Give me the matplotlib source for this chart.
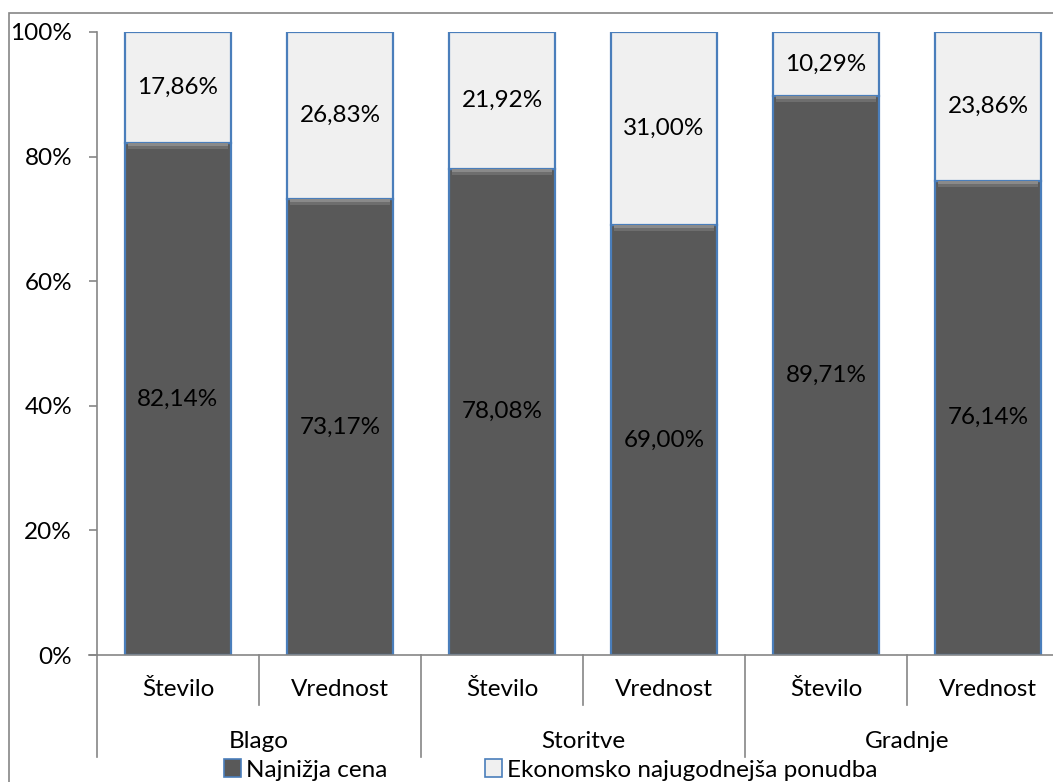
import matplotlib
matplotlib.use("Agg")
import matplotlib.pyplot as plt
from matplotlib.patches import Patch, Rectangle

plt.rcParams['font.family'] = ['Lato', 'DejaVu Sans']

groups = ["Blago", "Storitve", "Gradnje"]
subcats = ["Število", "Vrednost", "Število", "Vrednost", "Število", "Vrednost"]
najnizja = [82.14, 73.17, 78.08, 69.00, 89.71, 76.14]
ekonomsko = [17.86, 26.83, 21.92, 31.00, 10.29, 23.86]
ytick_vals = [0, 20, 40, 60, 80, 100]
ytick_labels = ["0%", "20%", "40%", "60%", "80%", "100%"]
series_names = ["Najnižja cena", "Ekonomsko najugodnejša ponudba"]

W, H = 1053, 782
fig = plt.figure(figsize=(W / 100, H / 100), dpi=100)
fig.patch.set_facecolor('white')

# outer chart border
fig.add_artist(Rectangle((8.5 / W, -0.05), 1.2, 1 - 12.5 / H + 0.05, transform=fig.transFigure,
                         fill=False, edgecolor='#868686', linewidth=1.2))

ax = fig.add_axes([97 / W, 1 - 655 / H, 972 / W, 623 / H])
ax.set_facecolor('none')

dark = '#595959'
light = '#f0f0f0'
edge = '#4a7ebb'
fs = 17.5
x = list(range(len(subcats)))
bw = 0.655

ax.bar(x, najnizja, width=bw, color=dark, edgecolor=edge, linewidth=1.6, zorder=2)
# bevel highlight at top of dark segment
for h, c in [(1.0, '#6e6e6e'), (0.5, '#8a8a8a')]:
    ax.bar(x, [h] * len(x), bottom=[v - h for v in najnizja], width=bw * 0.95,
           color=c, linewidth=0, zorder=3)
ax.bar(x, ekonomsko, bottom=najnizja, width=bw, color=light, edgecolor=edge, linewidth=1.6, zorder=2)

for i in x:
    ax.text(i, najnizja[i] / 2, f"{najnizja[i]:.2f}%".replace('.', ','), ha='center', va='center',
            fontsize=fs, color='black', zorder=4)
    ax.text(i, najnizja[i] + ekonomsko[i] / 2, f"{ekonomsko[i]:.2f}%".replace('.', ','), ha='center',
            va='center', fontsize=fs, color='black', zorder=4)

ax.set_xlim(-0.5, len(subcats) - 0.5)
ax.set_ylim(0, 100)
ax.set_yticks(ytick_vals)
ax.set_yticklabels(ytick_labels, fontsize=fs)
ax.tick_params(axis='y', length=6, width=1.2, color='#868686', pad=12)
ax.set_xticks([])

for s in ['top', 'right']:
    ax.spines[s].set_visible(False)
for s in ['left', 'bottom']:
    ax.spines[s].set_color('#868686')
    ax.spines[s].set_linewidth(1.2)
ax.spines['left'].set_bounds(0, 100)

ax.plot([-0.5 - 8 / 162, -0.5], [0, 0], color='#868686', lw=1.2, clip_on=False,
        transform=ax.transData)

xt = ax.get_xaxis_transform()
# multi-level category axis
for i, lab in enumerate(subcats):
    ax.text(i, -(689 - 655) / 623, lab, ha='center', va='center', fontsize=fs, transform=xt)
for g, name in enumerate(groups):
    ax.text(2 * g + 0.5, -(741 - 655) / 623, name, ha='center', va='center', fontsize=fs, transform=xt)
for g in range(len(groups) + 1):
    ax.plot([2 * g - 0.5] * 2, [0, -(757 - 655) / 623], color='#868686', lw=1.2,
            transform=xt, clip_on=False)
for g in range(len(groups)):
    ax.plot([2 * g + 0.5] * 2, [0, -(705 - 655) / 623], color='#868686', lw=1.2,
            transform=xt, clip_on=False)

handles = [Patch(facecolor=dark, edgecolor=edge, linewidth=1.2),
           Patch(facecolor=light, edgecolor=edge, linewidth=1.2)]
fig.legend(handles, series_names, loc='center', bbox_to_anchor=(0.523, 1 - 770 / H), ncol=2,
           frameon=False, fontsize=fs, handlelength=0.7, handleheight=0.7, handletextpad=0.2,
           columnspacing=4.05, borderpad=0)

fig.savefig('out.png', dpi=100, facecolor='white')
